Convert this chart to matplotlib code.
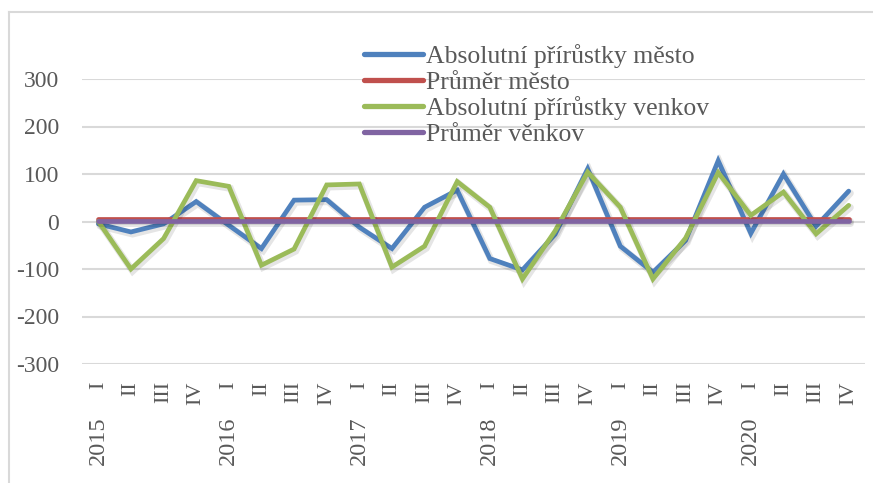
import matplotlib
matplotlib.use("Agg")
import matplotlib.pyplot as plt
from matplotlib.lines import Line2D
import matplotlib.patheffects as pe

quarters = ["I", "II", "III", "IV"] * 6
years = ["2015", "2016", "2017", "2018", "2019", "2020"]

mesto = [-5, -22, -5, 42, -8, -57, 45, 46, -12, -57, 30, 66,
         -78, -102, -27, 111, -52, -107, -40, 128, -25, 100, -10, 64]
venkov = [0, -100, -36, 86, 74, -92, -58, 77, 79, -96, -52, 84,
          30, -121, -20, 104, 30, -121, -35, 103, 13, 62, -26, 34]
prumer_mesto = [5] * 24
prumer_venkov = [1] * 24

labels = ["Absolutní přírůstky město", "Průměr město",
          "Absolutní přírůstky venkov", "Průměr věnkov"]
colors = ["#4F81BD", "#C0504D", "#9BBB59", "#8064A2"]

W, H = 873, 483
fig = plt.figure(figsize=(W / 100, H / 100), dpi=100)
ax = fig.add_axes([82 / W, 1 - 364 / H, (865 - 82) / W, (364 - 79) / H])

x = list(range(len(quarters)))
series = [mesto, prumer_mesto, venkov, prumer_venkov]
shadow = [pe.SimpleLineShadow(offset=(1.2, -1.5), shadow_color="k", alpha=0.10, linewidth=5), pe.Normal()]
for i, (s, c, lab) in enumerate(zip(series, colors, labels)):
    ax.plot(x, s, color=c, lw=3.4, label=lab, solid_capstyle="round",
            solid_joinstyle="miter", zorder=3 + i, path_effects=shadow)

ax.set_ylim(-300, 300)
ax.set_xlim(-0.5, len(quarters) - 0.5)
ax.set_yticks([-300, -200, -100, 0, 100, 200, 300])
ax.set_yticklabels(["-300", "-200", "-100", "0", "100", "200", "300"],
                   fontfamily="Liberation Serif", fontsize=17, color="#595959")
ax.yaxis.grid(True, color="#D9D9D9", lw=1.5)
ax.set_axisbelow(True)
for sp in ax.spines.values():
    sp.set_visible(False)
ax.tick_params(axis="y", length=0, pad=16.5)
ax.tick_params(axis="x", length=0, pad=12.5)
ax.set_xticks(x)
ax.set_xticklabels(quarters, rotation=90, va="top", ha="center",
                   fontfamily="Liberation Serif", fontsize=16, color="#595959")

for k, yr in enumerate(years):
    ax.annotate(yr, xy=(4 * k, 0), xycoords=("data", "axes fraction"),
                xytext=(0, -38), textcoords="offset points", rotation=90,
                ha="center", va="top", fontfamily="Liberation Serif",
                fontsize=17.5, color="#595959")

leg = ax.legend(loc="upper left", bbox_to_anchor=(364 / W, 1 - 44 / H),
                bbox_transform=fig.transFigure, frameon=False,
                prop={"family": "Liberation Serif", "size": 18.5},
                handlelength=2.3, handletextpad=0.12, labelspacing=0.1,
                borderpad=0, borderaxespad=0)
for t in leg.get_texts():
    t.set_color("#595959")
for h in leg.get_lines():
    h.set_linewidth(3.8)
    h.set_path_effects([])

fig.add_artist(Line2D([8.5 / W, 8.5 / W], [0, 1 - 12 / H], transform=fig.transFigure,
                      color="#D9D9D9", lw=1.5))
fig.add_artist(Line2D([8.5 / W, 1], [1 - 12 / H, 1 - 12 / H], transform=fig.transFigure,
                      color="#D9D9D9", lw=1.5))

fig.savefig("out.png", dpi=100)
